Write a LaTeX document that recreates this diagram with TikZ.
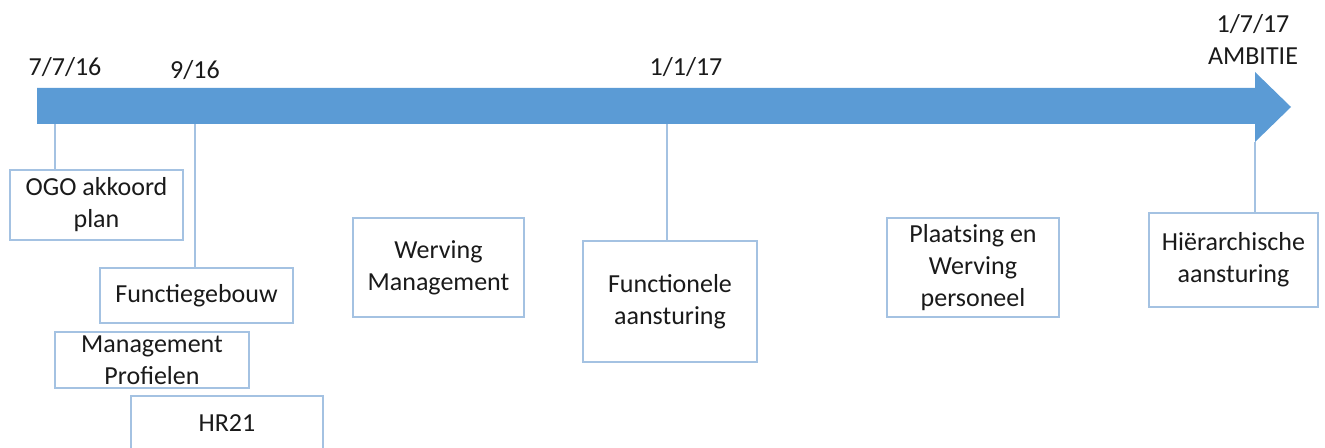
\documentclass[tikz,border=0pt]{standalone}
\usepackage{fontspec}
\setmainfont{Carlito}
\definecolor{arrowblue}{HTML}{5B9BD5}
\definecolor{boxline}{HTML}{A4C2E2}
\definecolor{textgray}{HTML}{1A1A1A}
\begin{document}
\begin{tikzpicture}[x=0.75pt,y=-0.75pt,
  every node/.style={text=textgray,font=\fontsize{19.5}{24}\selectfont},
  event/.style={draw=boxline,line width=1.1pt,fill=white,rectangle,
    align=center,inner sep=0pt},
  datelabel/.style={inner sep=0pt,align=center},
  tick/.style={draw=boxline,line width=1.3pt}]
\useasboundingbox (0,0) rectangle (1325,448);
\clip (0,0) rectangle (1325,448);

% timeline arrow
\fill[arrowblue] (37,88) -- (1255,88) -- (1255,72) -- (1291,107) -- (1255,142)
  -- (1255,124) -- (37,124) -- cycle;

% points on the arrow where the connectors start
\coordinate (t1) at (55,124);
\coordinate (t2) at (195,124);
\coordinate (t3) at (667,124);
\coordinate (t4) at (1255,142);

% dates
\node[datelabel] (d1) at (65,67) {7/7/16};
\node[datelabel] (d2) at (195,70) {9/16};
\node[datelabel] (d3) at (686,67) {1/1/17};
\node[datelabel] (d4) at (1253,39) {1/7/17\\AMBITIE};

% milestone boxes
\node[event,minimum width=173*0.75pt,minimum height=70*0.75pt] (ogo) at (96.5,205) {OGO akkoord\\plan};
\node[event,minimum width=193*0.75pt,minimum height=55*0.75pt] (fg) at (196.5,295.5) {Functiegebouw};
\node[event,minimum width=194*0.75pt,minimum height=56*0.75pt] (mp) at (152,360) {Management\\Profielen};
\node[event,minimum width=192*0.75pt,minimum height=54*0.75pt] (hr) at (227,423) {HR21};
\node[event,minimum width=171*0.75pt,minimum height=99*0.75pt] (wm) at (438.5,267.5) {Werving\\Management};
\node[event,minimum width=174*0.75pt,minimum height=121*0.75pt] (fa) at (670,301.5) {Functionele\\aansturing};
\node[event,minimum width=172*0.75pt,minimum height=99*0.75pt] (pw) at (973,267.5) {Plaatsing en\\Werving\\personeel};
\node[event,minimum width=169*0.75pt,minimum height=94*0.75pt] (ha) at (1233.5,260) {Hiërarchische\\aansturing};

% connectors
\draw[tick] (t1) -- (t1 |- ogo.north);
\draw[tick] (t2) -- (t2 |- fg.north);
\draw[tick] (t3) -- (t3 |- fa.north);
\draw[tick] (t4) -- (t4 |- ha.north);
\end{tikzpicture}
\end{document}
